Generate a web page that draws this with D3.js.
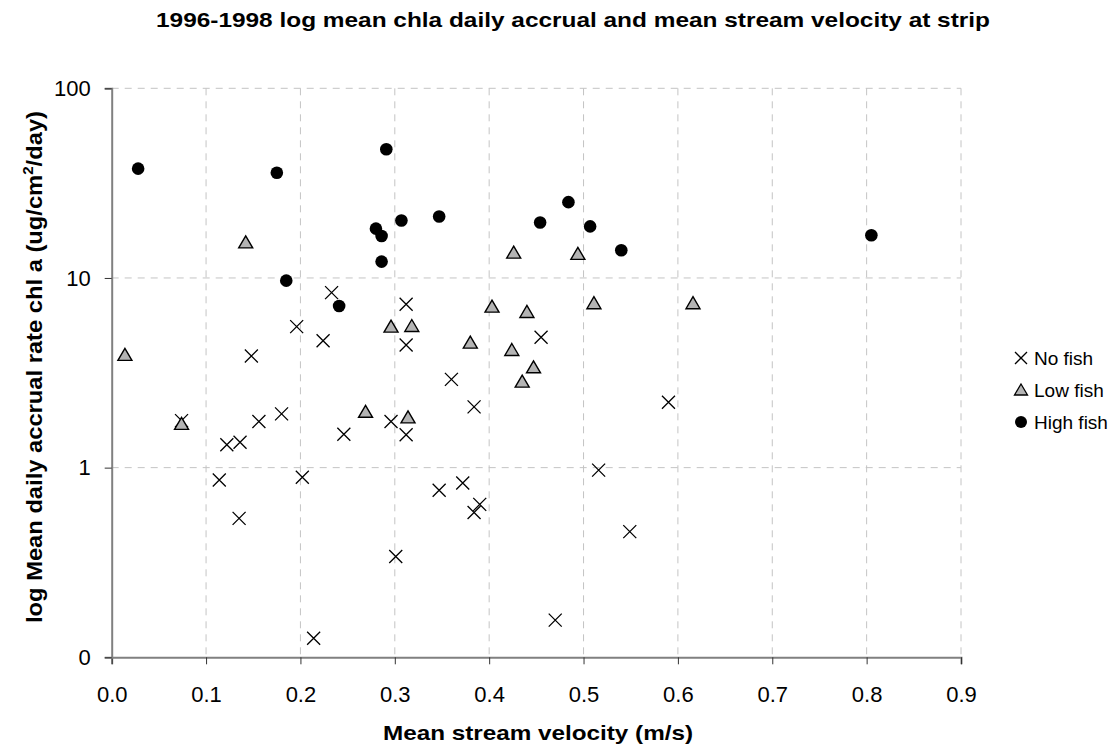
<!DOCTYPE html>
<html>
<head>
<meta charset="utf-8">
<script src="https://cdn.jsdelivr.net/npm/d3@7"></script>
<style>
  body { margin: 0; background: #fff; }
  svg { font-family: "Liberation Sans", Arial, sans-serif; }
</style>
</head>
<body>
<div id="chart"></div>
<script>
// data
const noFishV = [0.233, 0.196, 0.224, 0.148, 0.312, 0.312, 0.455, 0.360, 0.384, 0.296,
                 0.312, 0.246, 0.516, 0.347, 0.372, 0.390, 0.384, 0.549, 0.301, 0.470,
                 0.590, 0.074, 0.122, 0.136, 0.156, 0.180, 0.114, 0.202, 0.135, 0.214];
const noFishChl = [8.37, 5.54, 4.67, 3.88, 7.27, 4.43, 4.87, 2.92, 2.09, 1.75,
                   1.49, 1.50, 0.97, 0.76, 0.83, 0.64, 0.58, 0.46, 0.34, 0.157,
                   2.21, 1.77, 1.32, 1.36, 1.75, 1.92, 0.86, 0.89, 0.54, 0.126];

const lowFishV = [0.142, 0.014, 0.074, 0.426, 0.494, 0.403, 0.440, 0.511, 0.296,
                  0.318, 0.380, 0.424, 0.447, 0.435, 0.269, 0.314, 0.616];
const lowFishChl = [15.4, 3.93, 1.70, 13.6, 13.4, 7.06, 6.62, 7.36, 5.54,
                    5.58, 4.56, 4.17, 3.38, 2.84, 1.97, 1.84, 7.36];

const highFishV = [0.028, 0.175, 0.185, 0.241, 0.291, 0.280, 0.286, 0.286,
                   0.307, 0.347, 0.454, 0.484, 0.507, 0.540, 0.805];
const highFishChl = [37.7, 35.9, 9.68, 7.11, 47.7, 18.2, 16.65, 12.2,
                     20.1, 21.1, 19.6, 25.1, 18.7, 14.0, 16.8];

const xTicks = [0, 0.1, 0.2, 0.3, 0.4, 0.5, 0.6, 0.7, 0.8, 0.9];
const yTicks = [0.1, 1, 10, 100];
const yTickLabels = ["0", "1", "10", "100"];
const seriesNames = ["No fish", "Low fish", "High fish"];

const width = 1117, height = 748;
const plotLeft = 111.7, plotRight = 961, plotTop = 88.3, plotBottom = 657.3;

const svg = d3.select("#chart").append("svg")
  .attr("width", width)
  .attr("height", height);

const x = d3.scaleLinear().domain([0, 0.9]).range([plotLeft, plotRight]);
const y = d3.scaleLog().domain([0.1, 100]).range([plotBottom, plotTop]);

// gridlines
svg.append("g")
  .selectAll("line")
  .data(xTicks.slice(1))
  .join("line")
  .attr("x1", d => x(d)).attr("x2", d => x(d))
  .attr("y1", plotTop).attr("y2", plotBottom)
  .attr("stroke", "#c4c4c4")
  .attr("stroke-dasharray", "7,6");

svg.append("g")
  .selectAll("line")
  .data(yTicks.slice(1))
  .join("line")
  .attr("x1", plotLeft).attr("x2", plotRight)
  .attr("y1", d => y(d)).attr("y2", d => y(d))
  .attr("stroke", "#c4c4c4")
  .attr("stroke-dasharray", "7,6");

// axes
const xAxis = d3.axisBottom(x)
  .tickValues(xTicks)
  .tickFormat(d3.format(".1f"))
  .tickSize(7)
  .tickPadding(22);

const yAxis = d3.axisLeft(y)
  .tickValues(yTicks)
  .tickFormat((d, i) => yTickLabels[i])
  .tickSize(7)
  .tickPadding(14);

const gx = svg.append("g")
  .attr("transform", `translate(0,${plotBottom})`)
  .call(xAxis);

const gy = svg.append("g")
  .attr("transform", `translate(${plotLeft},0)`)
  .call(yAxis);

[gx, gy].forEach(g => {
  g.select(".domain").attr("stroke", "#808080").attr("stroke-width", 2);
  g.selectAll(".tick line").attr("stroke", "#333");
  g.selectAll(".tick text")
    .attr("fill", "#000")
    .style("font-size", "22px")
    .style("font-family", "'Liberation Sans', Arial, sans-serif");
});

// markers
const crossPath = "M-6.5,-6.5L6.5,6.5M-6.5,6.5L6.5,-6.5";
const triPath = "M0,-6.5L7,5.5L-7,5.5Z";

svg.append("g")
  .selectAll("path")
  .data(noFishV.map((v, i) => [v, noFishChl[i]]))
  .join("path")
  .attr("transform", d => `translate(${x(d[0])},${y(d[1])})`)
  .attr("d", crossPath)
  .attr("stroke", "#000")
  .attr("stroke-width", 1.3)
  .attr("fill", "none");

svg.append("g")
  .selectAll("path")
  .data(lowFishV.map((v, i) => [v, lowFishChl[i]]))
  .join("path")
  .attr("transform", d => `translate(${x(d[0])},${y(d[1])})`)
  .attr("d", triPath)
  .attr("stroke", "#000")
  .attr("stroke-width", 1.4)
  .attr("fill", "#b4b4b4");

svg.append("g")
  .selectAll("circle")
  .data(highFishV.map((v, i) => [v, highFishChl[i]]))
  .join("circle")
  .attr("cx", d => x(d[0]))
  .attr("cy", d => y(d[1]))
  .attr("r", 6.3)
  .attr("fill", "#000");

// titles
svg.append("text")
  .attr("x", 573)
  .attr("y", 27)
  .attr("text-anchor", "middle")
  .attr("textLength", 834)
  .attr("lengthAdjust", "spacingAndGlyphs")
  .style("font-size", "21px")
  .style("font-weight", "bold")
  .text("1996-1998 log mean chla daily accrual and mean stream velocity at strip");

svg.append("text")
  .attr("x", 538)
  .attr("y", 740)
  .attr("text-anchor", "middle")
  .attr("textLength", 310)
  .attr("lengthAdjust", "spacingAndGlyphs")
  .style("font-size", "21px")
  .style("font-weight", "bold")
  .text("Mean stream velocity (m/s)");

const yTitle = svg.append("text")
  .attr("transform", "translate(42,367) rotate(-90)")
  .attr("text-anchor", "middle")
  .attr("textLength", 512)
  .attr("lengthAdjust", "spacingAndGlyphs")
  .style("font-size", "22px")
  .style("font-weight", "bold");
yTitle.append("tspan").text("log Mean daily accrual rate chl a (ug/cm");
yTitle.append("tspan").attr("dy", -9).style("font-size", "14px").text("2");
yTitle.append("tspan").attr("dy", 9).text("/day)");

// legend
const legend = svg.append("g").attr("transform", "translate(1021,358)");
const rows = legend.selectAll("g")
  .data(seriesNames)
  .join("g")
  .attr("transform", (d, i) => `translate(0,${i * 32})`);

rows.filter((d, i) => i === 0).append("path")
  .attr("d", "M-6,-6L6,6M-6,6L6,-6")
  .attr("stroke", "#000").attr("stroke-width", 1.3);
rows.filter((d, i) => i === 1).append("path")
  .attr("d", "M0,-6L6.5,5L-6.5,5Z")
  .attr("stroke", "#000").attr("stroke-width", 1.3).attr("fill", "#b4b4b4");
rows.filter((d, i) => i === 2).append("circle")
  .attr("r", 6).attr("fill", "#000");

rows.append("text")
  .attr("x", 13)
  .attr("y", 7)
  .style("font-size", "19px")
  .text(d => d);
</script>
</body>
</html>
